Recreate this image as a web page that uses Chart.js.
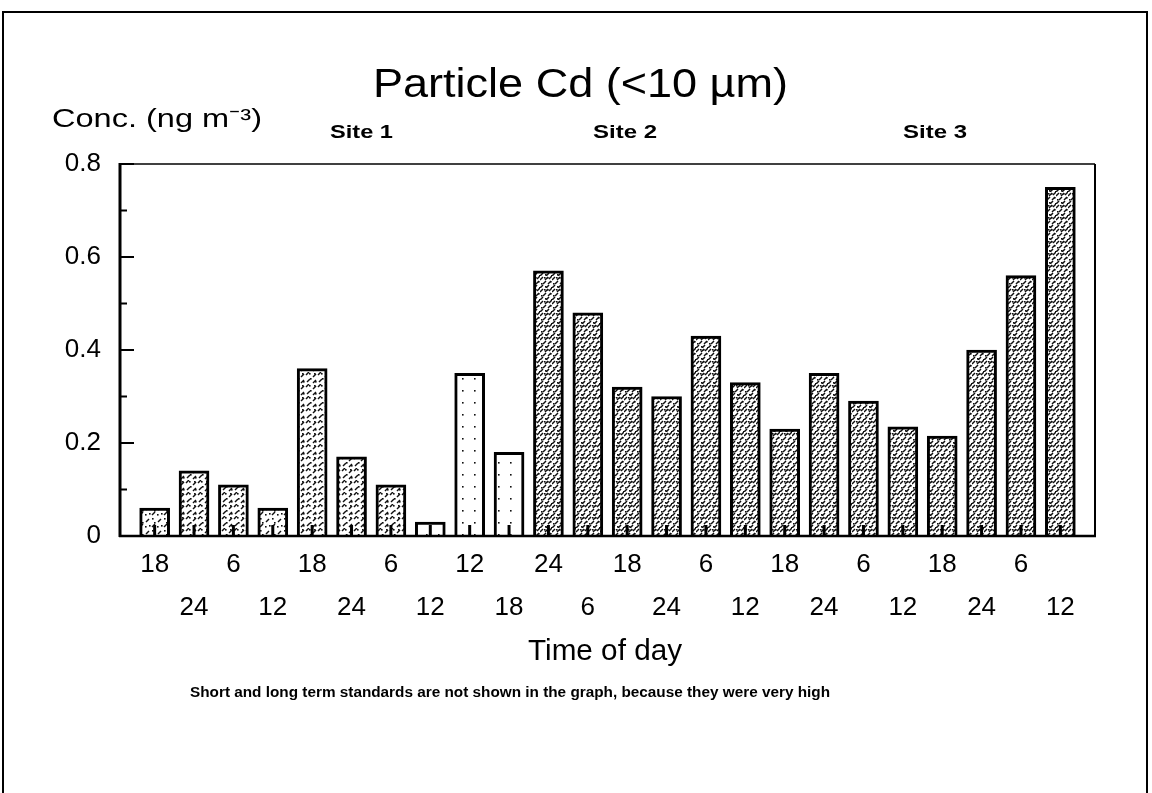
<!DOCTYPE html>
<html>
<head>
<meta charset="utf-8">
<script src="https://cdn.jsdelivr.net/npm/chart.js@4.4.1/dist/chart.umd.min.js"></script>
<style>
  html, body { margin: 0; padding: 0; background: #fff; }
  #wrap { width: 1152px; height: 793px; position: relative; }
</style>
</head>
<body>
<div id="wrap"><canvas id="chart" width="1152" height="793"></canvas></div>
<script>
// Cd in particles < 10 um, 24 samples over three sites
const timeLabels = ["18", "24", "6", "12", "18", "24", "6", "12", "12", "18", "24", "6",
                    "18", "24", "6", "12", "18", "24", "6", "12", "18", "24", "6", "12"];
const cdConc = [0.06, 0.14, 0.11, 0.06, 0.36, 0.17, 0.11, 0.03, 0.35, 0.18, 0.57, 0.48,
                0.32, 0.30, 0.43, 0.33, 0.23, 0.35, 0.29, 0.235, 0.215, 0.40, 0.56, 0.75];
const siteNames = ["Site 1", "Site 2", "Site 3"];

// fill texture per bar
const barTexture = ["light", "medium", "medium", "light", "medium", "medium", "medium",
                    "open", "open", "open",
                    "dense", "dense", "dense", "dense", "dense", "dense", "dense",
                    "dense", "dense", "dense", "dense", "dense", "dense", "dense"];

const FONT = "'Liberation Sans', Arial, sans-serif";

const canvas = document.getElementById("chart");
const ctx = canvas.getContext("2d");

// small repeating stipple tiles: short "/" strokes plus dots
function makeTexture(strokes, dots) {
  const c = document.createElement("canvas");
  c.width = 12; c.height = 12;
  const g = c.getContext("2d");
  g.fillStyle = "#fff";
  g.fillRect(0, 0, 12, 12);
  g.strokeStyle = "#111";
  g.lineWidth = 1.5;
  strokes.forEach(([x, y]) => {
    g.beginPath();
    g.moveTo(x, y);
    g.lineTo(x + 3, y - 3);
    g.stroke();
  });
  g.fillStyle = "#111";
  dots.forEach(([x, y]) => g.fillRect(x, y, 1.6, 1.6));
  return ctx.createPattern(c, "repeat");
}

const textures = {
  dense: makeTexture([[0, 4], [5, 4], [3, 8], [8, 8], [0, 12], [6, 12], [9, 3]],
                     [[4, 1], [10, 5], [5, 10], [1, 7], [11, 11], [7, 1]]),
  medium: makeTexture([[1, 5], [7, 10], [6, 3], [1, 11]], [[3, 9], [10, 6], [2, 1], [9, 1]]),
  light: makeTexture([[2, 6], [8, 11]], [[8, 2], [5, 9], [10, 6], [1, 10]]),
  open: makeTexture([], [[6, 6]])
};

// plot frame, inward axis ticks, bar stems and the free text
const decorations = {
  id: "decorations",
  afterDatasetsDraw(chart) {
    const c = chart.ctx;
    const area = chart.chartArea;
    const y = chart.scales.y;
    c.save();
    c.fillStyle = "#000";
    // stems at the foot of each bar
    chart.getDatasetMeta(0).data.forEach((bar) => {
      c.fillRect(bar.x - 1.5, area.bottom - 11, 3, 11);
    });
    // inward ticks on the value axis
    y.ticks.forEach((t) => {
      const py = y.getPixelForValue(t.value);
      const major = Math.round(t.value * 10) % 2 === 0;
      c.fillRect(area.left, py - 1, major ? 14 : 7, 2);
    });
    // frame
    c.strokeStyle = "#000";
    c.lineWidth = 1.5;
    c.beginPath();
    c.moveTo(area.left, area.top);
    c.lineTo(area.right, area.top);
    c.stroke();
    c.lineWidth = 2;
    c.beginPath();
    c.moveTo(area.right, area.top);
    c.lineTo(area.right, area.bottom);
    c.stroke();
    c.lineWidth = 2.5;
    c.beginPath();
    c.moveTo(area.left - 1, area.bottom);
    c.lineTo(area.right + 1, area.bottom);
    c.stroke();
    c.lineWidth = 3;
    c.beginPath();
    c.moveTo(area.left, area.top - 1);
    c.lineTo(area.left, area.bottom + 1);
    c.stroke();
    c.restore();
  },
  afterDraw(chart) {
    const c = chart.ctx;
    c.save();
    // outer page border
    c.strokeStyle = "#000";
    c.lineWidth = 2;
    c.beginPath();
    c.moveTo(3, 793);
    c.lineTo(3, 12);
    c.lineTo(1147, 12);
    c.lineTo(1147, 793);
    c.stroke();

    const labels = [
      { t: "Particle Cd (<10 µm)", font: "40px " + FONT, x0: 373, x1: 788, base: 97 },
      { t: "Conc. (ng m\u207B\u00B3)", font: "26px " + FONT, x0: 52, x1: 262, base: 127 },
      { t: siteNames[0], font: "bold 18px " + FONT, x0: 330, x1: 393, base: 138 },
      { t: siteNames[1], font: "bold 18px " + FONT, x0: 593, x1: 657, base: 138 },
      { t: siteNames[2], font: "bold 18px " + FONT, x0: 903, x1: 967, base: 138 },
      { t: "Time of day", font: "29px " + FONT, x0: 528, x1: 682, base: 660 },
      { t: "Short and long term standards are not shown in the graph, because they were very high",
        font: "bold 14px " + FONT, x0: 190, x1: 830, base: 697 }
    ];
    c.fillStyle = "#000";
    c.textBaseline = "alphabetic";
    c.textAlign = "left";
    labels.forEach((l) => {
      c.font = l.font;
      const w = c.measureText(l.t).width;
      c.save();
      c.translate(l.x0, l.base);
      c.scale((l.x1 - l.x0) / w, 1);
      c.fillText(l.t, 0, 0);
      c.restore();
    });
    c.restore();
  }
};

new Chart(ctx, {
  type: "bar",
  data: {
    datasets: [{
      data: cdConc.map((v, i) => ({ x: i, y: v })),
      backgroundColor: barTexture.map((k) => textures[k]),
      borderColor: "#000",
      borderWidth: 3,
      barThickness: 30
    }]
  },
  options: {
    responsive: false,
    animation: false,
    layout: { padding: { left: 0, top: 164, right: 57, bottom: 0 } },
    plugins: { legend: { display: false }, tooltip: { enabled: false }, title: { display: false } },
    scales: {
      x: {
        type: "linear",
        offset: false,
        min: -0.88,
        max: 23.88,
        afterBuildTicks: (s) => { s.ticks = timeLabels.map((_, i) => ({ value: i })); },
        afterFit: (s) => { s.height = 793 - 536; },
        grid: { display: false, drawTicks: false },
        border: { display: false },
        ticks: {
          autoSkip: false,
          maxRotation: 0,
          padding: 7,
          color: "#000",
          font: { family: FONT, size: 26, lineHeight: 1.65 },
          callback: (v, i) => (i % 2 === 0 ? [timeLabels[i], ""] : ["", timeLabels[i]])
        }
      },
      y: {
        min: 0,
        max: 0.8,
        afterFit: (s) => { s.width = 120; },
        grid: { display: false, drawTicks: false },
        border: { display: false },
        ticks: {
          stepSize: 0.1,
          autoSkip: false,
          padding: 19,
          color: "#000",
          font: { family: FONT, size: 26 },
          callback: (v) => {
            const k = Math.round(v * 10);
            if (k % 2) return "";
            return k === 0 ? "0" : (k / 10).toFixed(1);
          }
        }
      }
    }
  },
  plugins: [decorations]
});
</script>
</body>
</html>
